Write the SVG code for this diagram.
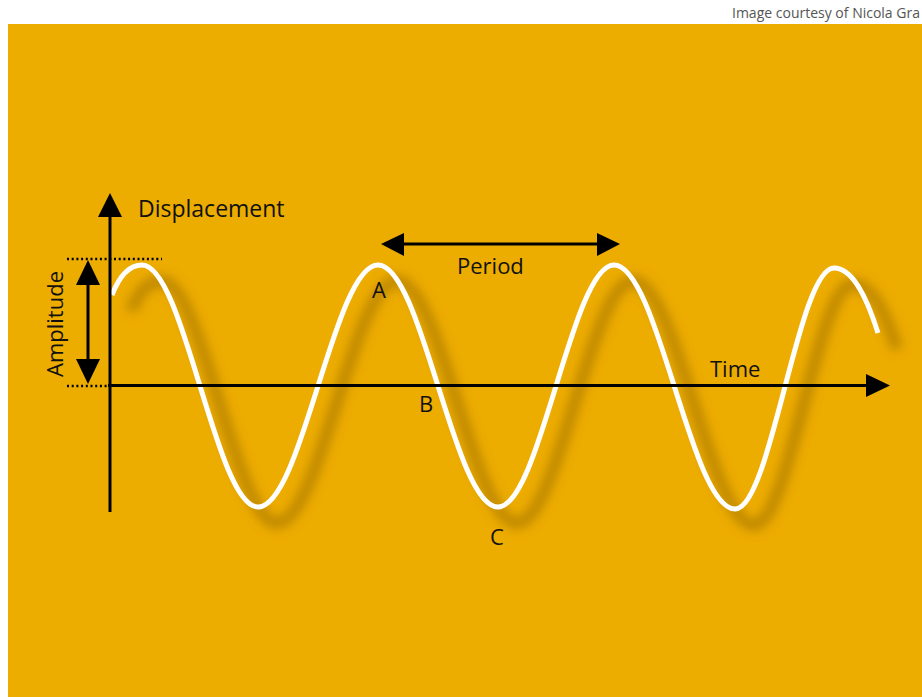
<svg xmlns="http://www.w3.org/2000/svg" width="922" height="697" viewBox="0 0 922 697">
<style>
.lbl{font-family:"Open Sans","DejaVu Sans",sans-serif;font-size:22px;fill:#111}
.ax{stroke:#000;stroke-width:3;fill:none}
.head{fill:#000}
.dot{stroke:#000;stroke-width:2.5;stroke-dasharray:2 2.7;fill:none}
.credit{font-family:"Open Sans","DejaVu Sans",sans-serif;font-size:14px;fill:#555}
</style>
<defs>
<filter id="blur" x="-10%" y="-10%" width="120%" height="130%">
<feGaussianBlur stdDeviation="5.5"/>
</filter>
<path id="wavePath" d="M112,295 C119,277 128,265 142,265 C184,265 216,507 258,507 C302,507 334,265 378,265 C422,265 454,507 498,507 C540,507 572,265 614,265 C658,265 691,509 735,509 C771,509 798,268 834,268 C852,268 866,295 878,333"/>
</defs>
<rect width="922" height="697" fill="#ffffff"/>
<rect x="8" y="24" width="914" height="673" fill="#EDAC00"/>
<text class="credit" x="732" y="18">Image courtesy of Nicola Gra</text>

<g id="wave">
<use href="#wavePath" transform="translate(19,16)" fill="none" stroke="#8f6500" stroke-opacity="0.55" stroke-width="11" filter="url(#blur)"/>
<use href="#wavePath" fill="none" stroke="#ffffff" stroke-width="5" stroke-linecap="butt"/>
</g>

<g id="connectors">
<g id="displacement-axis">
<line class="ax" x1="110" y1="512" x2="110" y2="214"/>
<polygon class="head" points="110,193 98,217 122,217"/>
</g>
<g id="time-axis">
<line class="ax" x1="108" y1="385.5" x2="868" y2="385.5"/>
<polygon class="head" points="890,385.5 866,374 866,397"/>
</g>
<g id="amplitude-arrow">
<line class="ax" x1="88" y1="282" x2="88" y2="362"/>
<polygon class="head" points="88,260 76,285 100,285"/>
<polygon class="head" points="88,384 76,359 100,359"/>
<line class="dot" x1="67" y1="259" x2="162" y2="259"/>
<line class="dot" x1="67" y1="386" x2="110" y2="386"/>
</g>
<g id="period-arrow">
<line class="ax" x1="400" y1="244" x2="600" y2="244"/>
<polygon class="head" points="381,244 404,233 404,256"/>
<polygon class="head" points="620,244 597,233 597,256"/>
</g>
</g>

<g id="label-displacement"><text class="lbl" x="138" y="217" style="font-size:23px">Displacement</text></g>
<g id="label-time"><text class="lbl" x="710" y="377">Time</text></g>
<g id="label-period"><text class="lbl" x="457" y="274">Period</text></g>
<g id="label-amplitude"><text class="lbl" transform="translate(63,377) rotate(-90)">Amplitude</text></g>
<g id="label-A"><text class="lbl" x="379" y="298" text-anchor="middle">A</text></g>
<g id="label-B"><text class="lbl" x="426" y="412" text-anchor="middle">B</text></g>
<g id="label-C"><text class="lbl" x="497" y="545" text-anchor="middle">C</text></g>
</svg>
